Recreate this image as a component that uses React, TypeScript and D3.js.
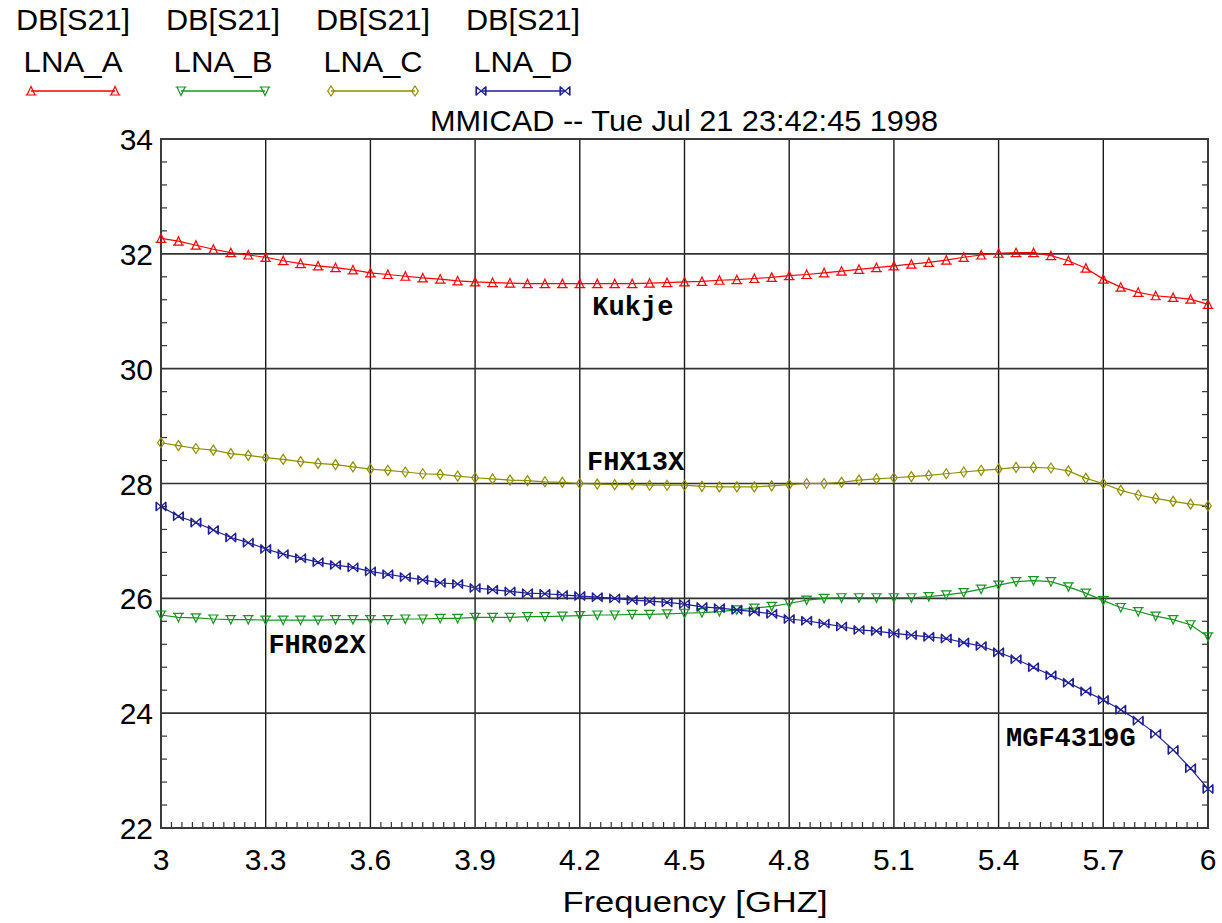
import React from "react";
import * as d3 from "d3";

const freq = [3.0, 3.05, 3.1, 3.15, 3.2, 3.25, 3.3, 3.35, 3.4, 3.45, 3.5, 3.55, 3.6, 3.65, 3.7, 3.75, 3.8, 3.85, 3.9, 3.95,
  4.0, 4.05, 4.1, 4.15, 4.2, 4.25, 4.3, 4.35, 4.4, 4.45, 4.5, 4.55, 4.6, 4.65, 4.7, 4.75, 4.8, 4.85, 4.9, 4.95,
  5.0, 5.05, 5.1, 5.15, 5.2, 5.25, 5.3, 5.35, 5.4, 5.45, 5.5, 5.55, 5.6, 5.65, 5.7, 5.75, 5.8, 5.85, 5.9, 5.95, 6.0];

const lnaA = [32.27, 32.22, 32.15, 32.08, 32.02, 31.98, 31.94, 31.88, 31.83, 31.79, 31.76, 31.72, 31.67, 31.64, 31.61, 31.58, 31.56, 31.53, 31.51, 31.50,
  31.49, 31.48, 31.48, 31.48, 31.48, 31.48, 31.48, 31.48, 31.49, 31.50, 31.51, 31.52, 31.54, 31.55, 31.57, 31.59, 31.62, 31.64, 31.67, 31.70,
  31.73, 31.76, 31.79, 31.82, 31.85, 31.89, 31.94, 31.98, 32.01, 32.02, 32.02, 31.97, 31.88, 31.75, 31.56, 31.42, 31.33, 31.27, 31.24, 31.21, 31.12];

const lnaB = [25.71, 25.67, 25.66, 25.64, 25.63, 25.63, 25.62, 25.62, 25.62, 25.62, 25.63, 25.63, 25.63, 25.63, 25.64, 25.64, 25.65, 25.65, 25.67, 25.67,
  25.67, 25.68, 25.68, 25.69, 25.70, 25.71, 25.71, 25.72, 25.72, 25.73, 25.74, 25.75, 25.77, 25.80, 25.83, 25.86, 25.91, 25.97, 26.00, 26.01,
  26.01, 26.01, 26.01, 26.01, 26.03, 26.06, 26.10, 26.16, 26.23, 26.29, 26.31, 26.29, 26.20, 26.09, 25.96, 25.84, 25.77, 25.69, 25.63, 25.54, 25.33];

const lnaC = [28.71, 28.66, 28.61, 28.58, 28.52, 28.49, 28.45, 28.42, 28.38, 28.35, 28.33, 28.29, 28.25, 28.23, 28.20, 28.17, 28.16, 28.13, 28.10, 28.08,
  28.06, 28.05, 28.03, 28.02, 28.00, 27.99, 27.98, 27.98, 27.97, 27.97, 27.97, 27.95, 27.94, 27.94, 27.94, 27.96, 27.98, 28.00, 28.00, 28.02,
  28.06, 28.08, 28.10, 28.12, 28.14, 28.17, 28.20, 28.23, 28.25, 28.28, 28.28, 28.27, 28.22, 28.09, 28.00, 27.88, 27.80, 27.74, 27.69, 27.64, 27.61];

const lnaD = [27.60, 27.43, 27.32, 27.19, 27.06, 26.97, 26.86, 26.77, 26.70, 26.63, 26.58, 26.54, 26.47, 26.42, 26.37, 26.32, 26.27, 26.25, 26.18, 26.15,
  26.12, 26.09, 26.08, 26.06, 26.04, 26.02, 26.00, 25.97, 25.95, 25.93, 25.90, 25.85, 25.83, 25.80, 25.77, 25.73, 25.64, 25.61, 25.56, 25.51,
  25.45, 25.43, 25.39, 25.36, 25.33, 25.30, 25.23, 25.17, 25.06, 24.94, 24.80, 24.66, 24.53, 24.38, 24.23, 24.06, 23.87, 23.64, 23.36, 23.04, 22.68];

const xTicks = [3, 3.3, 3.6, 3.9, 4.2, 4.5, 4.8, 5.1, 5.4, 5.7, 6];
const xTickLabels = ["3", "3.3", "3.6", "3.9", "4.2", "4.5", "4.8", "5.1", "5.4", "5.7", "6"];
const yTicks = [22, 24, 26, 28, 30, 32, 34];

const seriesNames = ["LNA_A", "LNA_B", "LNA_C", "LNA_D"];
const seriesMeasure = ["DB[S21]", "DB[S21]", "DB[S21]", "DB[S21]"];
const seriesColors = ["#ff0000", "#17951f", "#8e8e00", "#1e1e96"];
const seriesMarkers = ["up", "down", "diamond", "bowtie"];
const seriesData = [lnaA, lnaB, lnaC, lnaD];

const curveLabels = ["Kukje", "FHX13X", "FHR02X", "MGF4319G"];
const curveLabelX = [4.352, 4.36, 3.447, 5.607];
const curveLabelY = [30.93, 28.24, 25.05, 23.43];

const title = "MMICAD -- Tue Jul 21 23:42:45 1998";
const xTitle = "Frequency [GHZ]";

function markerPath(kind: string): string {
  switch (kind) {
    case "up":
      return "M0,-4.5L-4,4L4,4Z M-5.5,4L5.5,4";
    case "down":
      return "M0,4.5L-4,-4L4,-4Z M-5.5,-4L5.5,-4";
    case "diamond":
      return "M0,-5L3.3,0L0,5L-3.3,0Z";
    case "bowtie":
      return "M-4.5,-4L0,0L-4.5,4Z M4.5,-4L0,0L4.5,4Z M-5,-4.5L-5,4.5 M5,-4.5L5,4.5";
    default:
      return "";
  }
}

export default function App() {
  const W = 1222, H = 923;
  const x = d3.scaleLinear().domain([3, 6]).range([161, 1208]);
  const y = d3.scaleLinear().domain([22, 34]).range([828, 139]);
  const line = d3.line<number>().x((_, i) => x(freq[i])).y((d) => y(d));

  const xMinor = d3.range(3, 6.0001, 0.03).filter((v) => Math.abs(v / 0.3 - Math.round(v / 0.3)) > 1e-6);
  const yMinor = d3.range(22, 34.0001, 0.4).filter((v) => Math.abs(v / 2 - Math.round(v / 2)) > 1e-6);

  const sans = "'Liberation Sans', Arial, sans-serif";
  const mono = "'Liberation Mono', 'Courier New', monospace";

  return (
    <svg width={W} height={H} style={{ position: "absolute", left: 0, top: 0, background: "#fff" }}>
      <rect x={0} y={0} width={W} height={H} fill="#fff" />
      {/* legend */}
      {seriesNames.map((n, i) => {
        const cx = 73 + i * 150;
        return (
          <g key={n}>
            <text x={cx} y={30} fontFamily={sans} fontSize={30} textAnchor="middle" textLength={114} lengthAdjust="spacingAndGlyphs" fill="#000">{seriesMeasure[i]}</text>
            <text x={cx} y={72} fontFamily={sans} fontSize={30} textAnchor="middle" textLength={99} lengthAdjust="spacingAndGlyphs" fill="#000">{n}</text>
            <line x1={cx - 42} x2={cx + 42} y1={91} y2={91} stroke={seriesColors[i]} strokeWidth={1.3} />
            <path d={markerPath(seriesMarkers[i])} transform={`translate(${cx - 42},91)`} fill="none" stroke={seriesColors[i]} strokeWidth={1.2} />
            <path d={markerPath(seriesMarkers[i])} transform={`translate(${cx + 42},91)`} fill="none" stroke={seriesColors[i]} strokeWidth={1.2} />
          </g>
        );
      })}
      <text x={684} y={131} fontFamily={sans} fontSize={30} textAnchor="middle" textLength={508} lengthAdjust="spacingAndGlyphs" fill="#000">{title}</text>

      {/* grid */}
      {xTicks.slice(1, -1).map((t) => (
        <line key={"gx" + t} x1={x(t)} x2={x(t)} y1={y(34)} y2={y(22)} stroke="#1a1a1a" strokeWidth={1.4} />
      ))}
      {yTicks.slice(1, -1).map((t) => (
        <line key={"gy" + t} x1={x(3)} x2={x(6)} y1={y(t)} y2={y(t)} stroke="#333" strokeWidth={1.6} />
      ))}
      {/* minor ticks */}
      {xMinor.map((t) => (
        <line key={"mx" + t} x1={x(t)} x2={x(t)} y1={y(22)} y2={y(22) - 6} stroke="#333" strokeWidth={1.2} />
      ))}
      {yMinor.map((t) => (
        <g key={"my" + t}>
          <line x1={x(3)} x2={x(3) + 6} y1={y(t)} y2={y(t)} stroke="#333" strokeWidth={1.2} />
          <line x1={x(6)} x2={x(6) - 6} y1={y(t)} y2={y(t)} stroke="#333" strokeWidth={1.2} />
        </g>
      ))}
      {/* frame */}
      <rect x={x(3)} y={y(34)} width={x(6) - x(3)} height={y(22) - y(34)} fill="none" stroke="#3a3a3a" strokeWidth={2} />

      {/* series */}
      {seriesData.map((data, si) => (
        <g key={"s" + si}>
          <path d={line(data) || ""} fill="none" stroke={seriesColors[si]} strokeWidth={1.2} />
          {data.map((v, i) => (
            <path key={i} d={markerPath(seriesMarkers[si])} transform={`translate(${x(freq[i])},${y(v)})`} fill="none" stroke={seriesColors[si]} strokeWidth={1.2} />
          ))}
        </g>
      ))}

      {/* curve labels */}
      {curveLabels.map((l, i) => (
        <text key={l} x={x(curveLabelX[i])} y={y(curveLabelY[i])} fontFamily={mono} fontWeight="bold" fontSize={27} textAnchor="middle" fill="#000">{l}</text>
      ))}

      {/* axis labels */}
      {yTicks.map((t) => (
        <text key={"yl" + t} x={153} y={y(t) + 11} fontFamily={sans} fontSize={30} textAnchor="end" fill="#000">{t}</text>
      ))}
      {xTicks.map((t, i) => (
        <text key={"xl" + t} x={x(t)} y={870} fontFamily={sans} fontSize={30} textAnchor="middle" fill="#000">{xTickLabels[i]}</text>
      ))}
      <text x={695} y={912} fontFamily={sans} fontSize={30} textAnchor="middle" textLength={265} lengthAdjust="spacingAndGlyphs" fill="#000">{xTitle}</text>
    </svg>
  );
}
